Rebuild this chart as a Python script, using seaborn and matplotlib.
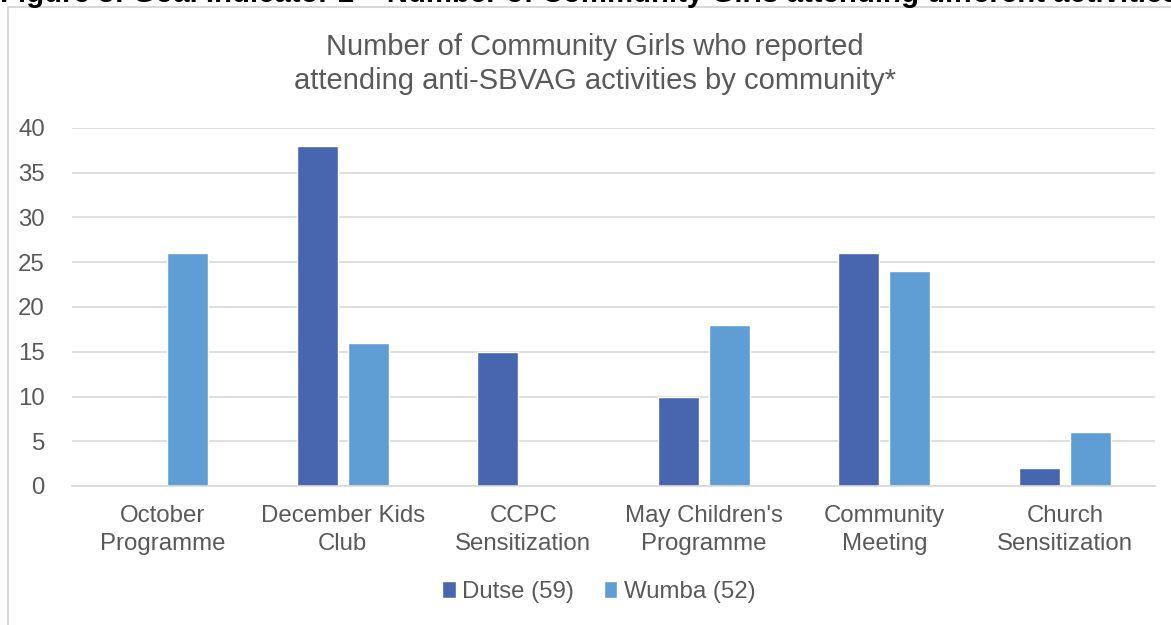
import matplotlib
matplotlib.use("Agg")
import matplotlib.pyplot as plt
from matplotlib.patches import Rectangle
import seaborn as sns
import pandas as pd

categories = ["October\nProgramme", "December Kids\nClub", "CCPC\nSensitization",
              "May Children's\nProgramme", "Community\nMeeting", "Church\nSensitization"]
dutse = [0, 38, 15, 10, 26, 2]
wumba = [26, 16, 0, 18, 24, 6]
series_names = ["Dutse (59)", "Wumba (52)"]
colors = ["#4865AF", "#5F9ED5"]
yticks = [0, 5, 10, 15, 20, 25, 30, 35, 40]

df = pd.DataFrame({
    "category": categories * 2,
    "value": dutse + wumba,
    "series": [series_names[0]] * len(categories) + [series_names[1]] * len(categories),
})

sns.set_theme(style="white")
plt.rcParams['font.family'] = ['Liberation Sans', 'DejaVu Sans']

W, H = 1171, 625
fig = plt.figure(figsize=(W / 100, H / 100), dpi=100)
ax = fig.add_axes([72 / W, 1 - 486 / H, (1155 - 72) / W, (486 - 128) / H])

sns.barplot(data=df, x="category", y="value", hue="series", order=categories,
            hue_order=series_names, palette=colors, width=0.565, gap=0.2,
            ax=ax, legend=True, saturation=1)

ax.set_ylim(0, 40)
ax.set_xlim(-0.5, len(categories) - 0.5)
ax.set_yticks(yticks)
ax.yaxis.grid(True, color="#d9d9d9", linewidth=1.2)
ax.set_axisbelow(True)
for s in ["top", "right", "left"]:
    ax.spines[s].set_visible(False)
ax.spines["bottom"].set_color("#d9d9d9")
ax.spines["bottom"].set_linewidth(1.2)
ax.tick_params(axis="both", length=0, labelsize=17.3, colors="#595959")
ax.tick_params(axis="y", pad=19.5)
ax.tick_params(axis="x", pad=14)
ax.set_xlabel("")
ax.set_ylabel("")
for lbl in ax.get_xticklabels():
    lbl.set_linespacing(1.3)

leg = ax.legend(loc="center", bbox_to_anchor=(599 / W, 1 - 592 / H),
                bbox_transform=fig.transFigure, ncol=2, frameon=False,
                fontsize=17.3, handlelength=0.55, handleheight=0.7,
                handletextpad=0.28, columnspacing=1.25)
for t in leg.get_texts():
    t.set_color("#595959")

fig.text(595 / W, 1 - 64 / H,
         "Number of Community Girls who reported\nattending anti-SBVAG activities by community*",
         ha="center", va="center", fontsize=21, color="#595959", linespacing=1.26)

# chart frame
fig.patches.append(Rectangle((8 / W, -0.1), 1.2, 1.1 - 7 / H, transform=fig.transFigure,
                             fill=False, edgecolor="#d9d9d9", linewidth=1.5, zorder=0))

# cropped header above the chart
fig.text(0, 1 - 2 / H,
         "Figure 3: Goal Indicator 2 \u2013 Number of Community Girls attending different activities",
         ha="left", va="baseline", fontsize=21.2, fontweight="bold", color="#000000")

fig.savefig("out.png", dpi=100)
